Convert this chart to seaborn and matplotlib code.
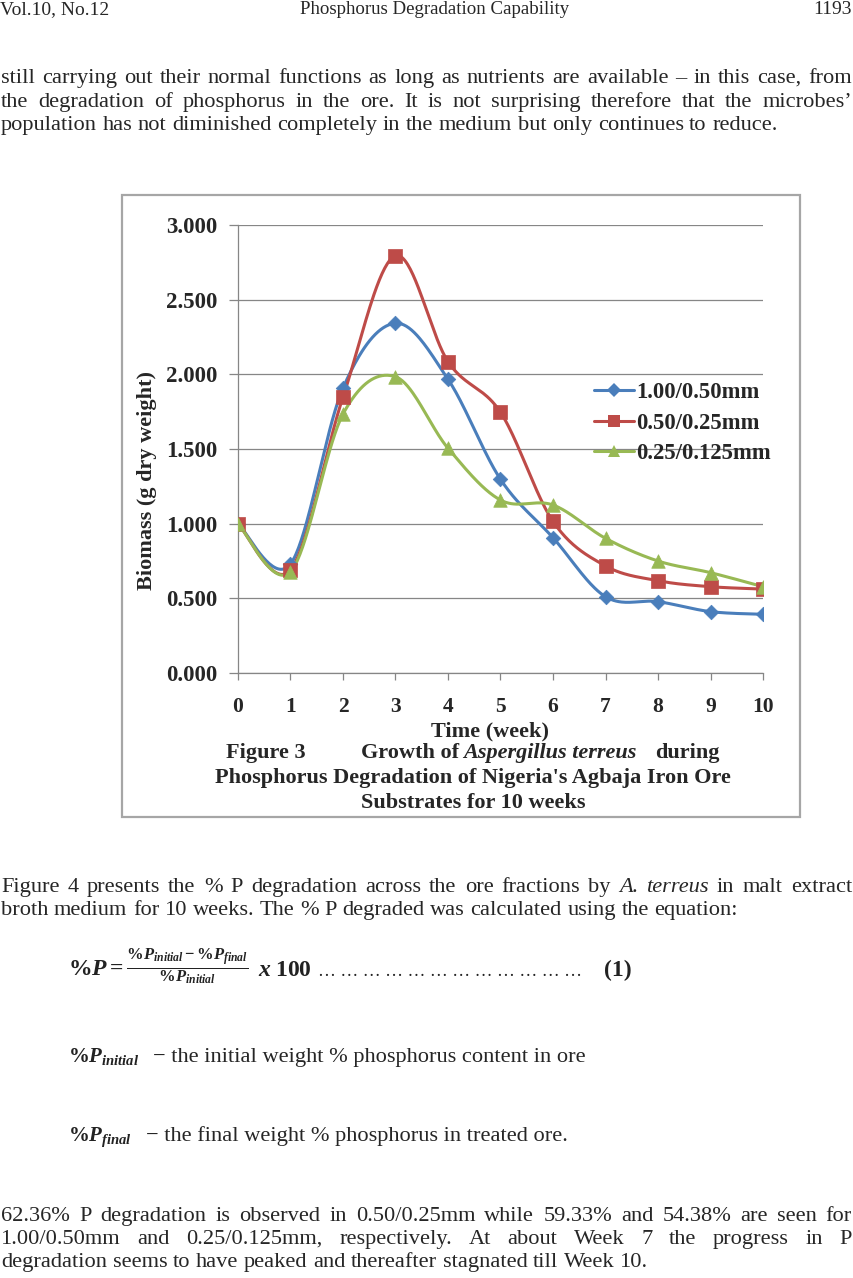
import numpy as np
import pandas as pd
import seaborn as sns
import matplotlib
matplotlib.use("Agg")
import matplotlib.pyplot as plt
from matplotlib.lines import Line2D
from matplotlib.patches import Rectangle

# data (biomass, g dry weight)
weeks = list(range(11))
fractions = ["1.00/0.50mm", "0.50/0.25mm", "0.25/0.125mm"]
biomass_100_050 = [1.000, 0.730, 1.908, 2.342, 1.967, 1.297, 0.906, 0.511, 0.478, 0.411, 0.393]
biomass_050_025 = [1.000, 0.690, 1.848, 2.794, 2.085, 1.746, 1.015, 0.717, 0.618, 0.578, 0.562]
biomass_025_0125 = [1.000, 0.678, 1.734, 1.984, 1.505, 1.158, 1.125, 0.902, 0.750, 0.672, 0.578]
yticks = [0.0, 0.5, 1.0, 1.5, 2.0, 2.5, 3.0]

colors = {"1.00/0.50mm": "#4a7ebb", "0.50/0.25mm": "#be4b48", "0.25/0.125mm": "#98b954"}
markers = {"1.00/0.50mm": "D", "0.50/0.25mm": "s", "0.25/0.125mm": "^"}
msizes = {"1.00/0.50mm": 55, "0.50/0.25mm": 95, "0.25/0.125mm": 95}

df = pd.DataFrame({
    "week": weeks * 3,
    "biomass": biomass_100_050 + biomass_050_025 + biomass_025_0125,
    "fraction": [f for f in fractions for _ in weeks],
})

sns.set_style("white")
plt.rcParams["font.family"] = ["Liberation Serif", "DejaVu Serif"]
plt.rcParams["mathtext.fontset"] = "custom"
plt.rcParams["mathtext.rm"] = "Liberation Serif:bold"
plt.rcParams["mathtext.it"] = "Liberation Serif:italic:bold"

W, H = 854, 1278
fig = plt.figure(figsize=(W / 100, H / 100), dpi=100)
fig.patch.set_facecolor("white")
renderer = fig.canvas.get_renderer()


def fx(x):
    return x / W


def fy(y):
    return 1 - y / H


def width_px(t):
    return t.get_window_extent(renderer).width


BODY = 16.1


def put_line(text, y, x0=1, x1=852, size=BODY, justify=True):
    # place words one by one so the line can be justified like the page
    items = []
    for w in text.split():
        style = "normal"
        if w.startswith("_") and w.endswith("_"):
            w = w[1:-1]
            style = "italic"
        t = fig.text(0, fy(y), w, fontsize=size, style=style, va="baseline", ha="left")
        items.append((t, width_px(t)))
    total = sum(wd for _, wd in items)
    if justify and len(items) > 1:
        gap = (x1 - x0 - total) / (len(items) - 1)
    else:
        gap = size * 100 / 72 * 0.25
    x = x0
    for t, wd in items:
        t.set_x(fx(x))
        x += wd + gap


# header
fig.text(fx(0), fy(14), "Vol.10, No.12", fontsize=14, va="baseline", ha="left")
fig.text(fx(435), fy(14), "Phosphorus Degradation Capability", fontsize=13.6, va="baseline", ha="center")
fig.text(fx(852), fy(14), "1193", fontsize=14, va="baseline", ha="right")

# first paragraph
put_line("still carrying out their normal functions as long as nutrients are available – in this case, from", 83)
put_line("the degradation of phosphorus in the ore. It is not surprising therefore that the microbes’", 107)
put_line("population has not diminished completely in the medium but only continues to reduce.", 130, justify=False)

# chart frame
fig.patches.append(Rectangle((fx(122), fy(817)), (800 - 122) / W, (817 - 195) / H,
                             transform=fig.transFigure, fill=False, edgecolor="#a6a6a6", lw=1.6))

ax = fig.add_axes([fx(238), fy(673), (763 - 238) / W, (673 - 225) / H])


def excel_smooth(x, y, n=40):
    # bezier smoothing like the spreadsheet "smoothed line"
    P = np.column_stack([x, y]).astype(float)
    out = []
    for i in range(len(P) - 1):
        p0 = P[i - 1] if i > 0 else P[i]
        p1, p2 = P[i], P[i + 1]
        p3 = P[i + 2] if i + 2 < len(P) else P[i + 1]
        c1 = p1 + (p2 - p0) / 6
        c2 = p2 - (p3 - p1) / 6
        t = np.linspace(0, 1, n)[:, None]
        seg = (1 - t) ** 3 * p1 + 3 * (1 - t) ** 2 * t * c1 + 3 * (1 - t) * t ** 2 * c2 + t ** 3 * p2
        out.append(seg if i == 0 else seg[1:])
    seg = np.vstack(out)
    return seg[:, 0], seg[:, 1]


for frac in fractions:
    grp = df[df["fraction"] == frac]
    sx, sy = excel_smooth(grp["week"].values, grp["biomass"].values)
    ax.plot(sx, sy, color=colors[frac], lw=2.2, zorder=3, solid_capstyle="round")
    sns.scatterplot(data=grp, x="week", y="biomass", marker=markers[frac], s=msizes[frac],
                    color=colors[frac], edgecolor=colors[frac], linewidth=0.5, ax=ax, zorder=4, legend=False)

ax.set_xlim(0, 10)
ax.set_ylim(0, 3)
ax.set_xticks(weeks)
ax.set_xticklabels([str(w) for w in weeks], fontsize=15.5, fontweight="bold")
ax.set_yticks(yticks)
ax.set_yticklabels(["%.3f" % v for v in yticks], fontsize=16.5, fontweight="bold")
ax.set_xlabel("")
ax.set_ylabel("")
ax.grid(axis="y", color="#868686", lw=0.9)
ax.set_axisbelow(True)
for s in ["top", "right"]:
    ax.spines[s].set_visible(False)
for s in ["left", "bottom"]:
    ax.spines[s].set_color("#868686")
    ax.spines[s].set_linewidth(0.9)
ax.tick_params(axis="y", direction="out", length=6.5, width=0.9, color="#868686", pad=8.5, left=True)
ax.tick_params(axis="x", direction="out", length=5, width=0.9, color="#868686", pad=12, bottom=True)

handles = [Line2D([0], [0], color=colors[f], lw=2.2, marker=markers[f],
                  markersize=np.sqrt(msizes[f]) * 0.9, markeredgewidth=0) for f in fractions]
leg = ax.legend(handles, fractions, loc="upper left", bbox_to_anchor=(fx(594), fy(382)),
                bbox_transform=fig.transFigure, frameon=False, handlelength=1.75, handletextpad=0.1,
                labelspacing=0.42, borderpad=0, borderaxespad=0,
                prop={"family": "Liberation Serif", "weight": "bold", "size": 16.3})

fig.text(fx(147), fy(481), "Biomass (g dry weight)", rotation=90, fontsize=16, fontweight="bold",
         ha="center", va="center")
fig.text(fx(490), fy(736), "Time (week)", fontsize=16, fontweight="bold", ha="center", va="baseline")

# caption inside the chart frame
fig.text(fx(226), fy(758), "Figure 3", fontsize=16, fontweight="bold", va="baseline")
fig.text(fx(361), fy(758), "Growth of", fontsize=16, fontweight="bold", va="baseline")
fig.text(fx(463), fy(758), "Aspergillus terreus", fontsize=16, fontweight="bold", style="italic", va="baseline")
fig.text(fx(655), fy(758), "during", fontsize=16, fontweight="bold", va="baseline")
fig.text(fx(473), fy(783), "Phosphorus Degradation of Nigeria's Agbaja Iron Ore", fontsize=16,
         fontweight="bold", ha="center", va="baseline")
fig.text(fx(473), fy(808), "Substrates for 10 weeks", fontsize=16, fontweight="bold", ha="center", va="baseline")

# second paragraph
put_line("Figure 4 presents the % P degradation across the ore fractions by _A._ _terreus_ in malt extract", 892)
put_line("broth medium for 10 weeks. The % P degraded was calculated using the equation:", 915, justify=False)

# equation (1): pieces laid out from their measured widths
eq = fig.text(fx(68), fy(976), r"$\%P = \frac{\%P_{initial} - \%P_{final}}{\%P_{initial}}$",
              fontsize=17, va="baseline", color="#222222")
x_eq = 68 + width_px(eq) + 10
times = fig.text(fx(x_eq), fy(976), r"$x\;100$", fontsize=17, va="baseline", color="#222222")
x_dots = x_eq + width_px(times) + 6
num = fig.text(fx(632), fy(976), "(1)", fontsize=17, fontweight="bold", va="baseline", ha="right",
               color="#222222")
x_num = 632 - width_px(num)
probe = fig.text(0, 0, "… ", fontsize=13)
n_dots = int((x_num - x_dots) // width_px(probe))
probe.remove()
fig.text(fx(x_dots), fy(976), "… " * n_dots, fontsize=13, va="baseline", color="#222222")

fig.text(fx(68), fy(1062), r"$\%P_{initial}$", fontsize=15, va="baseline", color="#222222")
fig.text(fx(153), fy(1062), "− the initial weight % phosphorus content in ore", fontsize=BODY, va="baseline")
fig.text(fx(68), fy(1141), r"$\%P_{final}$", fontsize=15, va="baseline", color="#222222")
fig.text(fx(146), fy(1141), "− the final weight % phosphorus in treated ore.", fontsize=BODY, va="baseline")

# third paragraph
put_line("62.36% P degradation is observed in 0.50/0.25mm while 59.33% and 54.38% are seen for", 1221)
put_line("1.00/0.50mm and 0.25/0.125mm, respectively. At about Week 7 the progress in P", 1244)
put_line("degradation seems to have peaked and thereafter stagnated till Week 10.", 1267, justify=False)

fig.savefig("out.png", dpi=100, facecolor="white")
